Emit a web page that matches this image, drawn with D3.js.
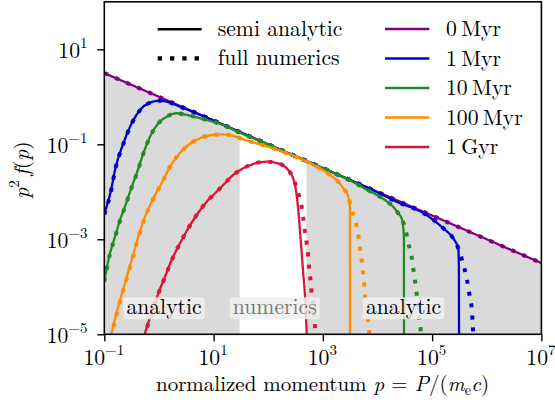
<!DOCTYPE html>
<html>
<head>
<meta charset="utf-8">
<script src="https://cdn.jsdelivr.net/npm/d3@7"></script>
<style>
  body { margin: 0; background: #fff; }
</style>
</head>
<body>
<svg id="chart" width="555" height="403"></svg>
<script>
// ---- data: normalized momentum p and p^2 f(p) ----
const ages = ["0\u2009Myr", "1\u2009Myr", "10\u2009Myr", "100\u2009Myr", "1\u2009Gyr"];
const ageColors = ["#800080", "#0000cd", "#228b22", "#ff8c00", "#dc143c"];

const semi0Myr = [[1e-1, 3.16], [1e1, 0.316], [1e3, 3.16e-2], [1e5, 3.16e-3], [1e7, 3.16e-4]];
const numerics0Myr = [[1e-1, 3.16], [1e1, 0.316], [1e3, 3.16e-2], [1e5, 3.16e-3], [1e7, 3.16e-4]];

const semi1Myr = [
  [0.1, 3.41e-3], [0.133, 1.09e-2], [0.157, 2.88e-2], [0.223, 0.105], [0.317, 0.277],
  [0.45, 0.527], [0.685, 0.752], [1.045, 0.828], [1.59, 0.752], [2.43, 0.619],
  [3.70, 0.513], [31.6, 0.177], [316, 5.62e-2], [3160, 1.77e-2], [6310, 1.245e-2],
  [2.24e4, 6.19e-3], [7.93e4, 3.25e-3], [1.60e5, 1.71e-3], [2.43e5, 1.05e-3],
  [3.01e5, 6.47e-4], [3.09e5, 2.65e-4], [3.12e5, 1e-6]
];
const numerics1Myr = [
  [0.1, 3.3e-3], [0.133, 1.05e-2], [0.157, 2.8e-2], [0.223, 0.102], [0.317, 0.272],
  [0.45, 0.52], [0.685, 0.75], [1.045, 0.828], [1.59, 0.752], [2.43, 0.619],
  [3.70, 0.513], [31.6, 0.177], [316, 5.62e-2], [3160, 1.77e-2], [6310, 1.245e-2],
  [2.24e4, 6.19e-3], [7.93e4, 3.25e-3], [1.60e5, 1.71e-3], [2.43e5, 1.05e-3],
  [3.01e5, 6.47e-4], [3.56e5, 3.54e-4], [4.16e5, 1.77e-4], [4.58e5, 1.0e-4],
  [4.92e5, 5.73e-5], [5.35e5, 3.25e-5], [5.51e5, 1.75e-5], [5.65e5, 1.07e-5], [5.82e5, 5e-6]
];

const semi10Myr = [
  [0.1, 1.32e-4], [0.127, 5.07e-4], [0.157, 1.135e-3], [0.194, 2.55e-3], [0.239, 4.85e-3],
  [0.295, 1.0e-2], [0.392, 2.45e-2], [0.518, 6.47e-2], [0.685, 0.145], [0.973, 0.277],
  [1.387, 0.381], [2.11, 0.450], [3.22, 0.414], [4.91, 0.370], [7.48, 0.325],
  [12.2, 0.277], [31.6, 0.172], [100, 9.93e-2], [1000, 3.16e-2], [3160, 1.74e-2],
  [6310, 1.12e-2], [1.37e4, 6.71e-3], [1.94e4, 4.85e-3], [2.40e4, 3.52e-3],
  [2.77e4, 2.77e-3], [2.96e4, 1.84e-3], [3.05e4, 9.66e-4], [3.06e4, 1e-6]
];
const numerics10Myr = [
  [0.1, 1.28e-4], [0.127, 4.9e-4], [0.157, 1.1e-3], [0.194, 2.48e-3], [0.239, 4.75e-3],
  [0.295, 9.8e-3], [0.392, 2.4e-2], [0.518, 6.35e-2], [0.685, 0.143], [0.973, 0.275],
  [1.387, 0.381], [2.11, 0.450], [3.22, 0.414], [4.91, 0.370], [7.48, 0.325],
  [12.2, 0.277], [31.6, 0.172], [100, 9.93e-2], [1000, 3.16e-2], [3160, 1.74e-2],
  [6310, 1.12e-2], [1.37e4, 6.71e-3], [1.94e4, 4.85e-3], [2.40e4, 3.52e-3],
  [2.77e4, 2.77e-3], [3.32e4, 1.45e-3], [3.66e4, 8.24e-4], [4.22e4, 4.31e-4],
  [4.51e4, 2.45e-4], [4.84e4, 1.39e-4], [5.20e4, 7.29e-5], [5.57e4, 3.81e-5],
  [5.81e4, 2.17e-5], [6.17e4, 1.23e-5], [6.38e4, 5e-6]
];

const semi100Myr = [
  [0.129, 7.94e-6], [0.136, 1.05e-5], [0.180, 3.81e-5], [0.239, 1.19e-4], [0.317, 3.66e-4],
  [0.419, 1.135e-3], [0.556, 2.99e-3], [0.736, 6.19e-3], [0.910, 1.0e-2], [1.122, 1.51e-2],
  [1.59, 3.37e-2], [2.26, 5.96e-2], [3.44, 9.66e-2], [5.64, 0.134], [9.23, 0.157],
  [15.0, 0.162], [22.9, 0.150], [34.9, 0.127], [61.5, 0.105], [108, 8.65e-2],
  [438, 4.67e-2], [885, 3.13e-2], [1350, 2.26e-2], [1910, 1.63e-2], [2360, 1.19e-2],
  [2920, 7.89e-3], [3130, 4.85e-3], [3150, 1e-6]
];
const numerics100Myr = [
  [0.132, 7.94e-6], [0.139, 1.05e-5], [0.183, 3.81e-5], [0.243, 1.19e-4], [0.322, 3.66e-4],
  [0.425, 1.135e-3], [0.562, 2.99e-3], [0.742, 6.19e-3], [0.915, 1.0e-2], [1.13, 1.51e-2],
  [1.59, 3.37e-2], [2.26, 5.96e-2], [3.44, 9.66e-2], [5.64, 0.134], [9.23, 0.157],
  [15.0, 0.162], [22.9, 0.150], [34.9, 0.127], [61.5, 0.105], [108, 8.65e-2],
  [438, 4.67e-2], [885, 3.13e-2], [1350, 2.26e-2], [1910, 1.63e-2], [2360, 1.19e-2],
  [2920, 7.89e-3], [3370, 4.14e-3], [4040, 2.17e-3], [4450, 1.23e-3], [4780, 6.47e-4],
  [5130, 3.66e-4], [5480, 1.92e-4], [5730, 1.09e-4], [5970, 5.73e-5], [6320, 3.25e-5],
  [6780, 1.75e-5], [7060, 1.05e-5], [7240, 5e-6]
];

const semi1Gyr = [
  [0.525, 7.94e-6], [0.556, 1.05e-5], [0.736, 2.77e-5], [0.973, 7.29e-5], [1.29, 1.63e-4],
  [1.71, 3.66e-4], [2.43, 8.24e-4], [3.44, 1.71e-3], [4.91, 3.25e-3], [7.48, 6.19e-3],
  [11.4, 1.0e-2], [15.0, 1.39e-2], [22.9, 2.26e-2], [34.9, 3.13e-2], [57.3, 3.98e-2],
  [93.8, 4.31e-2], [153, 3.98e-2], [233, 2.88e-2], [287, 1.92e-2], [322, 1.09e-2],
  [340, 6.71e-3], [355, 4.14e-3], [393, 9.66e-4], [438, 1.92e-4], [484, 3.81e-5],
  [506, 1.05e-5], [515, 7e-6]
];
const numerics1Gyr = [
  [0.535, 7.94e-6], [0.566, 1.05e-5], [0.745, 2.77e-5], [0.98, 7.29e-5], [1.30, 1.63e-4],
  [1.72, 3.66e-4], [2.43, 8.24e-4], [3.44, 1.71e-3], [4.91, 3.25e-3], [7.48, 6.19e-3],
  [11.4, 1.0e-2], [15.0, 1.39e-2], [22.9, 2.26e-2], [34.9, 3.13e-2], [57.3, 3.98e-2],
  [93.8, 4.31e-2], [153, 3.98e-2], [233, 2.88e-2], [287, 1.92e-2], [331, 1.2e-2],
  [355, 9.29e-3], [409, 4.85e-3], [438, 2.77e-3], [470, 1.45e-3], [506, 8.24e-4],
  [541, 4.31e-4], [564, 2.33e-4], [598, 1.28e-4], [624, 7.05e-5], [667, 3.81e-5],
  [697, 2.17e-5], [726, 1.14e-5], [741, 7e-6]
];

const semiSeries = [semi0Myr, semi1Myr, semi10Myr, semi100Myr, semi1Gyr];
const numericsSeries = [numerics0Myr, numerics1Myr, numerics10Myr, numerics100Myr, numerics1Gyr];

// momentum ranges treated analytically (shaded) vs numerically
const analyticRanges = [[1e-1, 30], [500, 1e7]];
const regionLabels = ["analytic", "numerics", "analytic"];
const regionLabelP = [1.24, 132, 3.0e4];

const xTicks = [1e-1, 1e1, 1e3, 1e5, 1e7];
const yTicks = [1e-5, 1e-3, 1e-1, 1e1];

// ---- layout ----
const FONT = '"Latin Modern Roman", "Liberation Serif", serif';
const FS = 21.7, FS_SMALL = 15;
const plot = { left: 104.3, right: 541.4, top: 1.8, bottom: 334.3 };
const svg = d3.select("#chart");
const x = d3.scaleLog().domain([1e-1, 1e7]).range([plot.left, plot.right]);
const y = d3.scaleLog().domain([1e-5, 1e2]).range([plot.bottom, plot.top]);

function styled(t, size) {
  return t.style("font-family", FONT).style("font-size", (size || FS) + "px");
}

const defs = svg.append("defs");
defs.append("clipPath").attr("id", "plotClip")
  .append("rect").attr("x", plot.left).attr("y", plot.top)
  .attr("width", plot.right - plot.left).attr("height", plot.bottom - plot.top);
const shadeClip = defs.append("clipPath").attr("id", "shadeClip");
analyticRanges.forEach(r => {
  shadeClip.append("rect").attr("x", x(r[0])).attr("y", plot.top)
    .attr("width", x(r[1]) - x(r[0])).attr("height", plot.bottom - plot.top);
});

// shaded analytic regions below the initial spectrum
svg.append("path").datum(semi0Myr)
  .attr("clip-path", "url(#shadeClip)")
  .attr("fill", "#dadada")
  .attr("d", d3.area().x(d => x(d[0])).y0(plot.bottom).y1(d => y(d[1])));

const line = d3.line().x(d => x(d[0])).y(d => y(d[1])).curve(d3.curveMonotoneX);
const curves = svg.append("g").attr("clip-path", "url(#plotClip)");
ages.forEach((a, i) => {
  curves.append("path").datum(semiSeries[i])
    .attr("fill", "none").attr("stroke", ageColors[i]).attr("stroke-width", 2.3)
    .attr("d", line);
  curves.append("path").datum(numericsSeries[i])
    .attr("fill", "none").attr("stroke", ageColors[i]).attr("stroke-width", 4)
    .attr("stroke-dasharray", "4,8").attr("d", line);
});

// region labels with translucent boxes
regionLabels.forEach((t, i) => {
  const g = svg.append("g");
  const txt = styled(g.append("text"))
    .attr("x", x(regionLabelP[i])).attr("y", 313.5)
    .attr("text-anchor", "middle")
    .attr("fill", t === "numerics" ? "#767676" : "#000")
    .text(t);
  const bb = txt.node().getBBox();
  g.insert("rect", "text")
    .attr("x", bb.x - 3).attr("y", 297.3)
    .attr("width", bb.width + 6).attr("height", 22)
    .attr("rx", 3).attr("fill", "#f0f0f0").attr("fill-opacity", 0.85);
});

// axes
function powerLabel(sel, v) {
  const e = Math.round(Math.log10(v));
  sel.text(null);
  sel.append("tspan").text("10");
  styled(sel.append("tspan"), FS_SMALL).attr("dy", -10)
    .text(e < 0 ? "\u2212" + (-e) : String(e));
}
const xAxis = svg.append("g").attr("transform", `translate(0,${plot.bottom})`)
  .call(d3.axisBottom(x).tickValues(xTicks).tickSize(7).tickSizeOuter(0).tickFormat(() => ""));
xAxis.selectAll(".tick text").each(function(d) {
  const t = styled(d3.select(this)).attr("x", -1).attr("y", 30.4).attr("dy", null).attr("fill", "#000");
  powerLabel(t, d);
});
const yAxis = svg.append("g").attr("transform", `translate(${plot.left},0)`)
  .call(d3.axisLeft(y).tickValues(yTicks).tickSize(7).tickSizeOuter(0).tickFormat(() => ""));
yAxis.selectAll(".tick text").each(function(d) {
  const t = styled(d3.select(this)).attr("x", -16.8).attr("dy", null).attr("y", 8)
    .attr("fill", "#000").attr("text-anchor", "end");
  powerLabel(t, d);
});
svg.selectAll(".tick line").attr("stroke", "#000").attr("stroke-width", 1.4);
svg.selectAll(".domain").remove();

// frame
svg.append("rect").attr("x", plot.left).attr("y", plot.top)
  .attr("width", plot.right - plot.left).attr("height", plot.bottom - plot.top)
  .attr("fill", "none").attr("stroke", "#000").attr("stroke-width", 1.6);

// axis titles
const xt = styled(svg.append("text"), 21).attr("x", 322.5).attr("y", 391)
  .attr("text-anchor", "middle");
xt.append("tspan").text("normalized momentum ");
xt.append("tspan").style("font-style", "italic").text("p");
xt.append("tspan").text(" = ");
xt.append("tspan").style("font-style", "italic").text("P");
xt.append("tspan").text("/(");
xt.append("tspan").style("font-style", "italic").text("m");
styled(xt.append("tspan"), 14.5).attr("dy", 4).text("e");
xt.append("tspan").style("font-style", "italic").attr("dy", -4).text("c");
xt.append("tspan").text(")");

const yt = styled(svg.append("text")).attr("transform", "translate(29,170) rotate(-90)")
  .attr("text-anchor", "middle");
yt.append("tspan").style("font-style", "italic").text("p");
styled(yt.append("tspan"), FS_SMALL).attr("dy", -10).text("2");
yt.append("tspan").attr("dy", 10).text("\u2009");
yt.append("tspan").style("font-style", "italic").text("f");
yt.append("tspan").text("(");
yt.append("tspan").style("font-style", "italic").text("p");
yt.append("tspan").text(")");

// legend: line styles
const styleLegend = [
  { label: "semi analytic", width: 2.6, dash: null, y: 29.3 },
  { label: "full numerics", width: 4.3, dash: "4.3,8", y: 58.3 }
];
styleLegend.forEach(s => {
  svg.append("line").attr("x1", 157.7).attr("x2", 201.7).attr("y1", s.y).attr("y2", s.y)
    .attr("stroke", "#000").attr("stroke-width", s.width)
    .attr("stroke-dasharray", s.dash);
  styled(svg.append("text")).attr("x", 217.7).attr("y", s.y + 6.7).text(s.label);
});

// legend: ages
ages.forEach((a, i) => {
  const ly = 29 + i * 29.5;
  svg.append("line").attr("x1", 385).attr("x2", 429.3).attr("y1", ly).attr("y2", ly)
    .attr("stroke", ageColors[i]).attr("stroke-width", 2.6);
  styled(svg.append("text")).attr("x", 446).attr("y", ly + 7).text(a);
});
</script>
</body>
</html>
